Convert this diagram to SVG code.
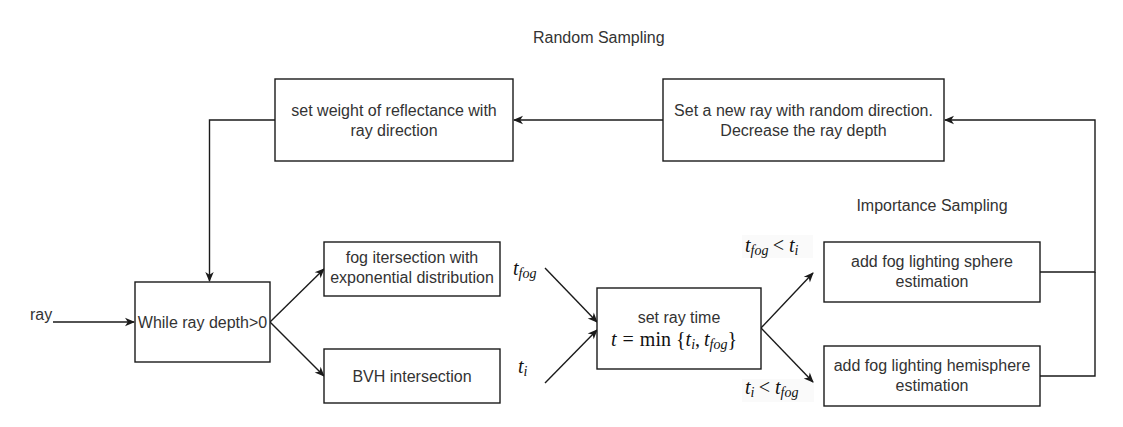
<svg xmlns="http://www.w3.org/2000/svg" width="1123" height="427" viewBox="0 0 1123 427">
<style>
.box{fill:#fff;stroke:#1a1a1a;stroke-width:1.4}
.t{font-family:"Liberation Sans",Arial,sans-serif;font-size:16px;fill:#333;text-anchor:middle}
.tl{font-family:"Liberation Sans",Arial,sans-serif;font-size:16px;fill:#333}
.m{font-family:"Liberation Serif","Times New Roman",serif;font-size:20px;fill:#111;font-style:italic}
.up{font-style:normal}
.sub{font-size:14px}
.e{fill:none;stroke:#1a1a1a;stroke-width:1.4}
.lbg{fill:#fafafa}
</style>
<defs>
<marker id="arr" markerUnits="userSpaceOnUse" markerWidth="12" markerHeight="12" refX="10" refY="6" orient="auto">
<path d="M1,1.8 L11,6 L1,10.2 L3.8,6 Z" fill="#1a1a1a"/>
</marker>
</defs>
<rect width="1123" height="427" fill="#fff"/>

<g id="labels">
<text class="tl" x="30" y="320">ray</text>
<text class="tl" x="533" y="43">Random Sampling</text>
<text class="t" x="932" y="211">Importance Sampling</text>
<text class="m" x="513" y="275">t<tspan class="sub" dy="3">fog</tspan></text>
<text class="m" x="518" y="373">t<tspan class="sub" dy="3">i</tspan></text>
<rect class="lbg" x="742" y="235" width="71" height="23"/>
<text class="m" x="745" y="252">t<tspan class="sub" dy="3">fog</tspan><tspan dy="-3" dx="3">&lt;</tspan><tspan dx="4">t</tspan><tspan class="sub" dy="3">i</tspan></text>
<rect class="lbg" x="742" y="379" width="72" height="23"/>
<text class="m" x="745" y="394">t<tspan class="sub" dy="3">i</tspan><tspan dy="-3" dx="3">&lt;</tspan><tspan dx="4">t</tspan><tspan class="sub" dy="3">fog</tspan></text>
</g>

<g id="edges">
<path class="e" d="M53,322 L134,322" marker-end="url(#arr)"/>
<path class="e" d="M275,120 L209.5,120 L209.5,281" marker-end="url(#arr)"/>
<path class="e" d="M663,120 L514,120" marker-end="url(#arr)"/>
<path class="e" d="M1040,272 L1095,272 L1095,120 L945,120" marker-end="url(#arr)"/>
<path class="e" d="M1040,376 L1095,376 L1095,272"/>
<path class="e" d="M270,322 L324,269" marker-end="url(#arr)"/>
<path class="e" d="M270,322 L324,376" marker-end="url(#arr)"/>
<path class="e" d="M545,268 L597,322" marker-end="url(#arr)"/>
<path class="e" d="M545,383 L597,330" marker-end="url(#arr)"/>
<path class="e" d="M761,328 L813,273" marker-end="url(#arr)"/>
<path class="e" d="M761,328 L813,382" marker-end="url(#arr)"/>
</g>

<g id="weight">
<rect class="box" x="275" y="79" width="238" height="82"/>
<text class="t" x="394" y="116">set weight of reflectance with</text>
<text class="t" x="394" y="136">ray direction</text>
</g>

<g id="newray">
<rect class="box" x="663" y="79" width="281" height="82"/>
<text class="t" x="803.5" y="116">Set a new ray with random direction.</text>
<text class="t" x="803.5" y="136">Decrease the ray depth</text>
</g>

<g id="while">
<rect class="box" x="135" y="282" width="135" height="80"/>
<text class="t" x="202.5" y="327.5">While ray depth&gt;0</text>
</g>

<g id="fog">
<rect class="box" x="324" y="242" width="176" height="54"/>
<text class="t" x="412" y="263">fog itersection with</text>
<text class="t" x="412" y="283">exponential distribution</text>
</g>

<g id="bvh">
<rect class="box" x="324" y="349" width="176" height="54"/>
<text class="t" x="412" y="381.5">BVH intersection</text>
</g>

<g id="settime">
<rect class="box" x="597" y="288" width="164" height="81"/>
<text class="t" x="679" y="323">set ray time</text>
<text class="m" x="611" y="346">t<tspan class="up" dx="6">=</tspan><tspan class="up" dx="6">min</tspan><tspan class="up" dx="5">{</tspan>t<tspan class="sub" dy="3">i</tspan><tspan class="up" dy="-3">,</tspan><tspan dx="4">t</tspan><tspan class="sub" dy="3">fog</tspan><tspan class="up" dy="-3">}</tspan></text>
</g>

<g id="sphere">
<rect class="box" x="824" y="242" width="216" height="60"/>
<text class="t" x="932" y="266.5">add fog lighting sphere</text>
<text class="t" x="932" y="286.5">estimation</text>
</g>

<g id="hemisphere">
<rect class="box" x="824" y="346" width="216" height="60"/>
<text class="t" x="932" y="370.5">add fog lighting hemisphere</text>
<text class="t" x="932" y="390.5">estimation</text>
</g>
</svg>
